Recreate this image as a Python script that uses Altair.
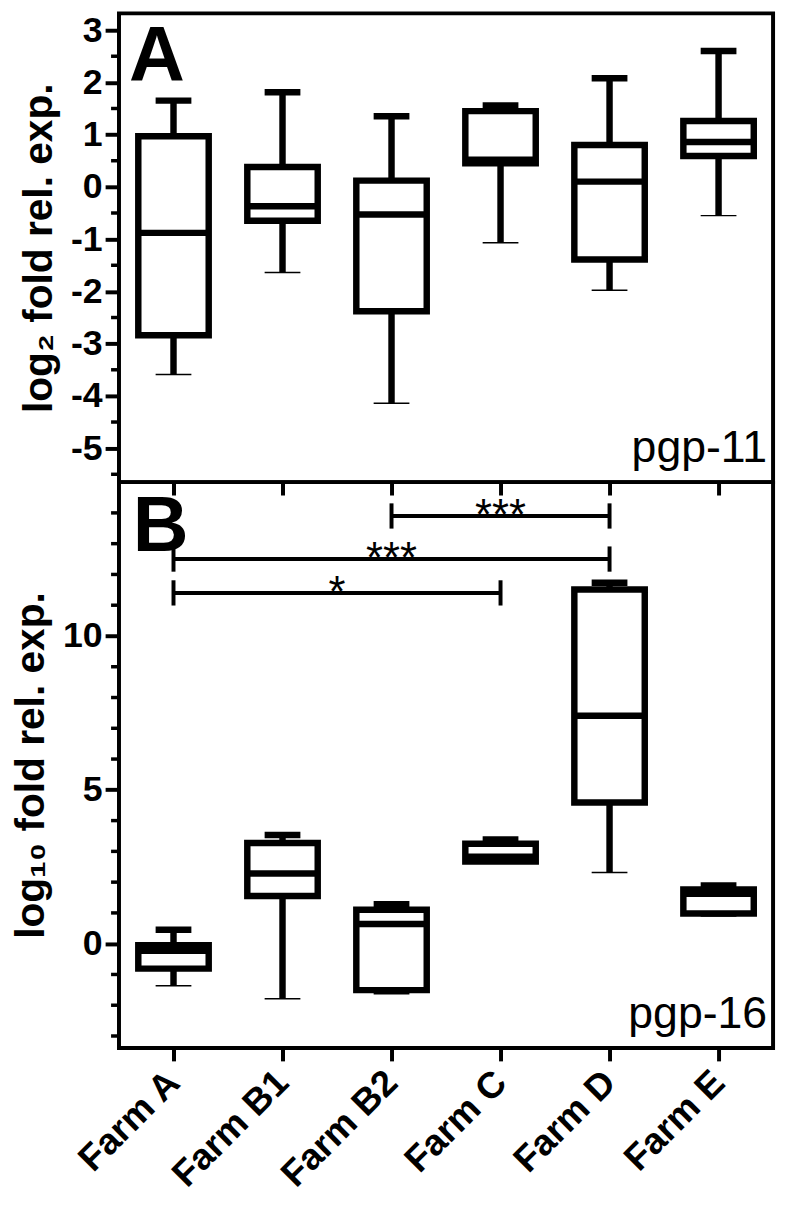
import altair as alt
import pandas as pd

farms = ["Farm A", "Farm B1", "Farm B2", "Farm C", "Farm D", "Farm E"]

# Panel A: pgp-11 (log2 fold relative expression)
a_min = [-3.59, -1.64, -4.14, -1.07, -1.98, -0.55]
a_q1 = [-2.84, -0.65, -2.38, 0.45, -1.39, 0.59]
a_med = [-0.88, -0.37, -0.53, 0.52, 0.10, 0.86]
a_q3 = [0.97, 0.38, 0.12, 1.45, 0.80, 1.26]
a_max = [1.65, 1.81, 1.35, 1.56, 2.08, 2.60]

# Panel B: pgp-16 (log10 fold relative expression)
b_min = [-1.37, -1.79, -1.63, 2.65, 2.31, 0.90]
b_q1 = [-0.81, 1.55, -1.51, 2.67, 4.59, 0.98]
b_med = [-0.23, 2.28, 0.64, 2.83, 7.41, 1.62]
b_q3 = [-0.05, 3.27, 1.10, 3.25, 11.51, 1.76]
b_max = [0.45, 3.53, 1.28, 3.39, 11.73, 1.89]

a_major = [-5, -4, -3, -2, -1, 0, 1, 2, 3]
a_minor = [-5.5, -4.5, -3.5, -2.5, -1.5, -0.5, 0.5, 1.5, 2.5]
b_major = [0, 5, 10]
b_minor = [-3, -2, -1, 1, 2, 3, 4, 6, 7, 8, 9, 11, 12, 13, 14]

sig_from = [0, 0, 2]
sig_to = [3, 4, 4]
sig_y = [11.4, 12.5, 13.9]
sig_text = ["*", "***", "***"]

panel_letters = ["A", "B"]
gene_labels = ["pgp-11", "pgp-16"]
y_titles = ["log\u2082 fold rel. exp.", "log\u2081\u2080 fold rel. exp."]

FONT = "Liberation Sans"
W = 660
HA = 473
HB = 571

xscale = alt.Scale(domain=[-0.5, 5.5], nice=False, zero=False)
label_expr = "[" + ",".join("'" + f + "'" for f in farms) + "][datum.value]"


def make_panel(mins, q1s, meds, q3s, maxs, domain, major, minor, ytitle,
               letter, gene, height, show_labels, letter_pos, sig=None):
    df = pd.DataFrame({"i": list(range(len(farms))), "min": mins, "q1": q1s,
                       "med": meds, "q3": q3s, "max": maxs})
    yscale = alt.Scale(domain=domain, nice=False, zero=False)
    yaxis = alt.Axis(values=major, tickSize=14, tickWidth=4, tickColor="black",
                     labelFontSize=36, labelFontWeight="bold", labelPadding=3,
                     labelColor="black", labelFont=FONT,
                     labelExpr="datum.value + ''",
                     title=ytitle, titleFontSize=41, titleFontWeight="bold",
                     titleFont=FONT, titleColor="black", titlePadding=10,
                     domain=False, grid=False)
    if show_labels:
        xaxis = alt.Axis(values=list(range(len(farms))), labelExpr=label_expr,
                         labelAngle=-45, labelAlign="right", labelBaseline="middle",
                         labelFontSize=37, labelFontWeight="bold", labelFont=FONT,
                         labelColor="black", labelOverlap=False, labelPadding=16,
                         tickSize=13, tickWidth=4, tickColor="black",
                         domain=False, grid=False, title=None)
    else:
        xaxis = alt.Axis(values=list(range(len(farms))), labels=False,
                         tickSize=13, tickWidth=4, tickColor="black",
                         domain=False, grid=False, title=None)

    def X(f):
        return alt.X(f + ":Q", scale=xscale, axis=xaxis)

    def Y(f):
        return alt.Y(f + ":Q", scale=yscale, axis=yaxis)

    base = alt.Chart(df).transform_calculate(
        bl="datum.i - 0.323", br="datum.i + 0.323",
        cl="datum.i - 0.164", cr="datum.i + 0.164")

    whisk_up = base.mark_rule(color="black", strokeWidth=6.5).encode(
        x=X("i"), y=Y("q3"), y2="max:Q")
    whisk_dn = base.mark_rule(color="black", strokeWidth=6.5).encode(
        x=X("i"), y=Y("q1"), y2="min:Q")
    cap_up = base.mark_rule(color="black", strokeWidth=6.5).encode(
        x=X("cl"), x2="cr:Q", y=Y("max"))
    cap_dn = base.mark_rule(color="black", strokeWidth=1.5).encode(
        x=X("cl"), x2="cr:Q", y=Y("min"))
    box = base.mark_rect(fill="white", stroke="black", strokeWidth=6.5).encode(
        x=X("bl"), x2="br:Q", y=Y("q1"), y2="q3:Q")
    med = base.mark_rule(color="black", strokeWidth=6.5).encode(
        x=X("bl"), x2="br:Q", y=Y("med"))

    mdf = pd.DataFrame({"v": minor})
    minor_ticks = alt.Chart(mdf).mark_rule(color="black", strokeWidth=3.5).encode(
        x=alt.value(-8), x2=alt.value(0), y=Y("v"))

    ldf = pd.DataFrame({"t": [letter]})
    letter_txt = alt.Chart(ldf).mark_text(
        font=FONT, fontSize=78, fontWeight="bold", align="left",
        baseline="alphabetic", color="black", clip=True).encode(
        x=alt.value(letter_pos[0]), y=alt.value(letter_pos[1]), text="t:N")

    gdf = pd.DataFrame({"t": [gene]})
    gene_txt = alt.Chart(gdf).mark_text(
        font=FONT, fontSize=45, align="right", baseline="alphabetic",
        color="black").encode(
        x=alt.value(W - 6), y=alt.value(height - 20), text="t:N")

    layers = [minor_ticks, whisk_up, whisk_dn, cap_up, cap_dn, box, med,
              letter_txt, gene_txt]

    if sig is not None:
        sdf = pd.DataFrame({"a": sig[0], "b": sig[1], "y": sig[2], "t": sig[3]})
        sbase = alt.Chart(sdf).transform_calculate(
            mid="(datum.a + datum.b) / 2",
            ylo="datum.y - 0.41", yhi="datum.y + 0.41")
        hline = sbase.mark_rule(color="black", strokeWidth=4).encode(
            x=X("a"), x2="b:Q", y=Y("y"))
        lend = sbase.mark_rule(color="black", strokeWidth=4).encode(
            x=X("a"), y=Y("ylo"), y2="yhi:Q")
        rend = sbase.mark_rule(color="black", strokeWidth=4).encode(
            x=X("b"), y=Y("ylo"), y2="yhi:Q")
        stars = sbase.mark_text(font=FONT, fontSize=44, color="black",
                                baseline="alphabetic", dy=14).encode(
            x=X("mid"), y=Y("y"), text="t:N")
        layers += [hline, lend, rend, stars]

    return alt.layer(*layers).properties(width=W, height=height)


top = make_panel(a_min, a_q1, a_med, a_q3, a_max, [-5.65, 3.32], a_major,
                 a_minor, y_titles[0], panel_letters[0], gene_labels[0], HA,
                 False, (10, 68))
bottom = make_panel(b_min, b_q1, b_med, b_q3, b_max, [-3.39, 15.0], b_major,
                    b_minor, y_titles[1], panel_letters[1], gene_labels[1], HB,
                    True, (14, 69),
                    sig=(sig_from, sig_to, sig_y, sig_text))

chart = alt.vconcat(top, bottom, spacing=0, bounds="flush").properties(
    padding={"left": 0, "top": -4, "right": 5, "bottom": 5},
    background="white",
).configure_view(stroke="black", strokeWidth=4).configure_text(font=FONT)

chart.save("out.html", embed_options={"renderer": "svg", "actions": False})
